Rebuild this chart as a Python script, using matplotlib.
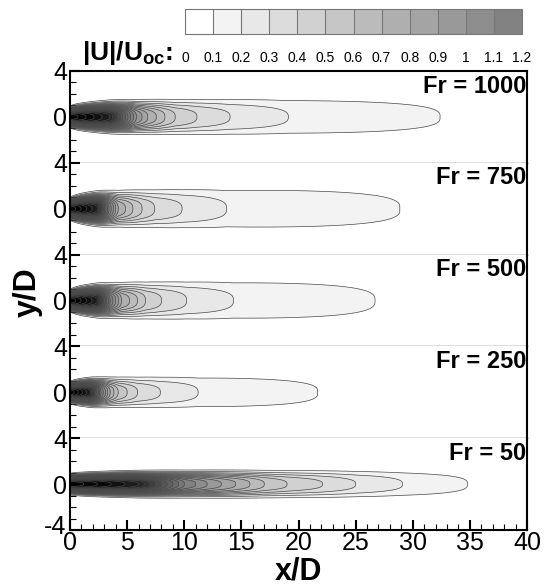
import numpy as np
import matplotlib
matplotlib.use("Agg")
import matplotlib.pyplot as plt
import matplotlib.transforms as mtransforms
from matplotlib.colors import ListedColormap, BoundaryNorm
import matplotlib.cm as cm
from matplotlib.ticker import MultipleLocator

plt.rcParams['font.family'] = ['Liberation Sans', 'DejaVu Sans']
plt.rcParams['mathtext.fontset'] = 'custom'
plt.rcParams['mathtext.rm'] = 'Liberation Sans'
plt.rcParams['mathtext.bf'] = 'Liberation Sans:bold'
plt.rcParams['axes.unicode_minus'] = False

# Froude number of each panel, top to bottom
fr_values = [1000, 750, 500, 250, 50]

# centreline |U|/Uoc levels and the x/D where each level ends on the centreline
uc_levels = [2.5, 2.0, 1.2, 1.0, 0.8, 0.6, 0.5, 0.4, 0.3, 0.2, 0.1]
x_fr1000 = [0.0, 3.5, 5.3, 5.8, 6.8, 8.3, 9.2, 11.1, 14.0, 19.1, 32.4]
x_fr750 = [0.0, 2.4, 3.4, 3.8, 4.2, 5.5, 6.3, 7.4, 9.8, 13.7, 28.9]
x_fr500 = [0.0, 2.4, 3.5, 4.0, 4.5, 5.9, 6.6, 8.0, 10.2, 14.3, 26.7]
x_fr250 = [0.0, 1.8, 2.7, 3.1, 3.5, 4.2, 5.0, 5.9, 7.9, 11.2, 21.7]
x_fr50 = [0.0, 6.0, 10.0, 12.0, 14.5, 17.0, 19.0, 22.1, 25.0, 29.1, 34.8]
x_ends = [x_fr1000, x_fr750, x_fr500, x_fr250, x_fr50]

# wake half-width parameters (b = base + growth*sqrt(x))
width_base = [0.6, 0.6, 0.6, 0.6, 0.62]
width_growth = [0.23, 0.32, 0.30, 0.24, 0.09]

# contour levels and grey shades
levels = np.round(np.arange(0, 2.61, 0.1), 2)
shades = [1.0] + [max(0.953 - 0.0443 * (i - 1), 0.03) for i in range(1, len(levels) - 1)]
colors = [(s, s, s) for s in shades]

fig = plt.figure(figsize=(5.45, 5.86), dpi=100)
left, right = 70 / 545, 527 / 545
top, bottom = 1 - 71 / 586, 1 - 530 / 586
h = (top - bottom) / 5

x = np.linspace(0, 40, 500)
y = np.linspace(-4, 4, 241)
X, Y = np.meshgrid(x, y)

for i, fr in enumerate(fr_values):
    ax = fig.add_axes([left, top - (i + 1) * h, right - left, h])
    xs = x_ends[i]
    uc = np.interp(x, xs + [xs[-1] + 2.0], uc_levels + [0.0])
    b = width_base[i] + width_growth[i] * np.sqrt(x)
    U = uc[None, :] * np.exp(-np.abs(Y / b[None, :]) ** 3)
    ax.contourf(X, Y, U, levels=levels, colors=colors)
    ax.contour(X, Y, U, levels=levels[1:], colors='#4a4a4a', linewidths=0.5)
    ax.set_xlim(0, 40)
    ax.set_ylim(-4, 4)

    ax.text(0.998, 0.96, f'Fr = {fr}', transform=ax.transAxes, ha='right', va='top',
            fontsize=17, fontweight='bold')

    for s in ['left', 'right']:
        ax.spines[s].set_linewidth(1.5)
    if i > 0:
        ax.spines['top'].set_visible(False)
    else:
        ax.spines['top'].set_linewidth(1.5)
    if i < 4:
        ax.spines['bottom'].set_color('#555555')
        ax.spines['bottom'].set_linewidth(1.0)
        ax.set_yticks([0, 4])
        ax.set_xticks([])
    else:
        ax.spines['bottom'].set_linewidth(1.5)
        ax.set_yticks([-4, 0, 4])
        ax.xaxis.set_major_locator(MultipleLocator(5))
        ax.xaxis.set_minor_locator(MultipleLocator(1))
    ax.yaxis.set_minor_locator(MultipleLocator(1))
    ax.tick_params(which='major', direction='in', length=7, width=1.5, labelsize=18, pad=2)
    ax.tick_params(which='minor', direction='in', length=4, width=0.8)
    ax.tick_params(axis='x', which='both', top=False, pad=1)
    ax.tick_params(axis='y', which='both', right=False)
    if i == 4:
        # nudge the corner "-4" up a little so it clears the x "0"
        shift = mtransforms.ScaledTranslation(-1 / 72, 4 / 72, fig.dpi_scale_trans)
        lab = ax.yaxis.get_major_ticks()[0].label1
        lab.set_transform(lab.get_transform() + shift)

fig.text(298 / 545, 1 - 586 / 586, 'x/D', fontsize=22, fontweight='bold', ha='center', va='bottom')
fig.text(28 / 545, 1 - 292 / 586, 'y/D', fontsize=23, fontweight='bold', ha='center', va='center',
         rotation=90)

# colour bar along the top
cax = fig.add_axes([185 / 545, 1 - 34 / 586, 337 / 545, 25 / 586])
bar_levels = levels[:13]
sm = cm.ScalarMappable(norm=BoundaryNorm(bar_levels, 12), cmap=ListedColormap(colors[:12]))
cb = fig.colorbar(sm, cax=cax, orientation='horizontal', drawedges=True, ticks=bar_levels)
cb.outline.set_edgecolor('#777777')
cb.outline.set_linewidth(0.8)
cb.dividers.set_color('#777777')
cb.dividers.set_linewidth(0.8)
cb.set_ticklabels([f'{v:g}' for v in bar_levels])
cax.tick_params(length=0, labelsize=10, pad=12)
fig.text(82 / 545, 1 - 60 / 586, r'$\mathbf{|U|/U_{oc}}$:', fontsize=19, fontweight='bold',
         va='baseline', ha='left')

fig.savefig('out.png', dpi=100)
